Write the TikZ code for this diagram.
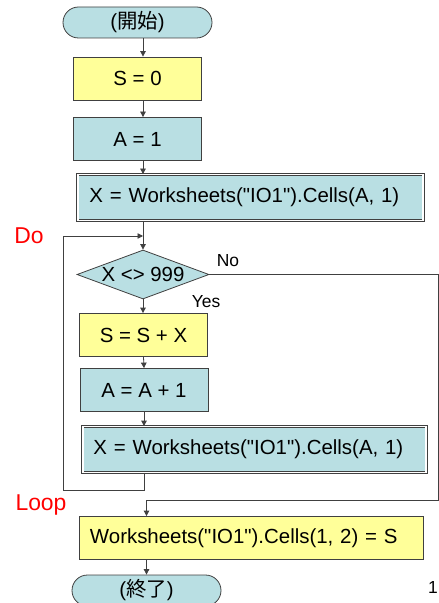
\documentclass[tikz,border=0pt]{standalone}
\usepackage{fontspec}
\setmainfont{Liberation Sans}[Ligatures=TeXOff]
\newfontfamily\jpfont{Noto Sans CJK JP}
\usetikzlibrary{arrows.meta,shapes.geometric}

\definecolor{boxblue}{RGB}{185,223,227}
\definecolor{boxyellow}{RGB}{255,255,153}
\definecolor{linegray}{RGB}{64,64,64}

\tikzset{
    base/.style={draw=linegray, line width=0.8bp, inner sep=0pt,
        font=\fontsize{20.5}{24}\selectfont},
    term/.style={base, fill=boxblue, rectangle, rounded corners=15.5bp,
        minimum width=149bp, minimum height=31bp},
    yproc/.style={base, fill=boxyellow, minimum width=128bp, minimum height=43bp},
    bproc/.style={base, fill=boxblue, minimum width=128bp, minimum height=43bp},
    io/.style={base, fill=boxblue, double=white, double distance=1.4bp,
        minimum height=46bp, text width=322bp, align=left},
    cond/.style={base, fill=boxblue, diamond, aspect=2.7,
        minimum width=132bp, minimum height=49bp},
    arr/.style={draw=linegray, line width=0.8bp, -{Triangle[length=5.5bp,width=5.5bp]}},
    lbl/.style={font=\fontsize{17.5}{20}\selectfont, inner sep=0pt},
    loopword/.style={text=red, font=\fontsize{23}{26}\selectfont, inner sep=0pt},
}

\begin{document}
\begin{tikzpicture}[x=1bp,y=-1bp]
    \useasboundingbox (0,0) rectangle (439,603);

    % main column
    \node[term] (start) at (137.5,22.5) {(\jpfont 開始\rmfamily)};
    \node[yproc] (s0) at (137.5,78.5) {S = 0};
    \node[bproc] (a1) at (137.5,139) {A = 1};
    \node[io, minimum width=345bp] (xin1) at (250.5,197.5) {X = Worksheets("IO1").Cells(A, 1)};
    \node[cond] (cond) at (143,274.5) {X <> 999};
    \node[yproc] (ssx) at (143.5,335) {S = S + X};
    \node[bproc] (aa1) at (144,390) {A = A + 1};
    \node[io, minimum width=343bp] (xin2) at (254.5,449.5) {X = Worksheets("IO1").Cells(A, 1)};
    \node[yproc, minimum width=344bp, text width=322bp, align=left] (out) at (251,538)
        {Worksheets("IO1").Cells(1, 2) = S};
    \node[term] (stop) at (146.5,590.5) {(\jpfont 終了\rmfamily)};

    % bends of the loop and of the exit
    \coordinate (doin) at (143,236);
    \coordinate (lpcorner) at (63,490);
    \coordinate (nocorner) at (438.5,500);

    \draw[arr] (start.south -| cond) -- (s0.north -| cond);
    \draw[arr] (s0.south -| cond) -- (a1.north -| cond);
    \draw[arr] (a1.south -| cond) -- (xin1.north -| cond);
    \draw[arr] (xin1.south -| cond) -- (cond.north);
    \draw[arr] (cond.south) -- (ssx.north -| cond);
    \draw[arr] (ssx.south) -- (aa1.north);
    \draw[arr] (aa1.south) -- (aa1.south |- xin2.north);
    \draw[arr] (xin2.south -| aa1) |- (lpcorner) |- (doin);
    \draw[arr] (cond.east) -| (nocorner) -| (out.north -| stop);
    \draw[arr] (out.south -| stop) -- (stop.north);

    % labels
    \node[lbl] (no) at (228,261) {No};
    \node[lbl] (yes) at (206,302) {Yes};
    \node[loopword] (do) at (29,236) {Do};
    \node[loopword] (loop) at (41,505) {Loop};
    \node[lbl, anchor=east] (page) at (438,587) {1};
\end{tikzpicture}
\end{document}
